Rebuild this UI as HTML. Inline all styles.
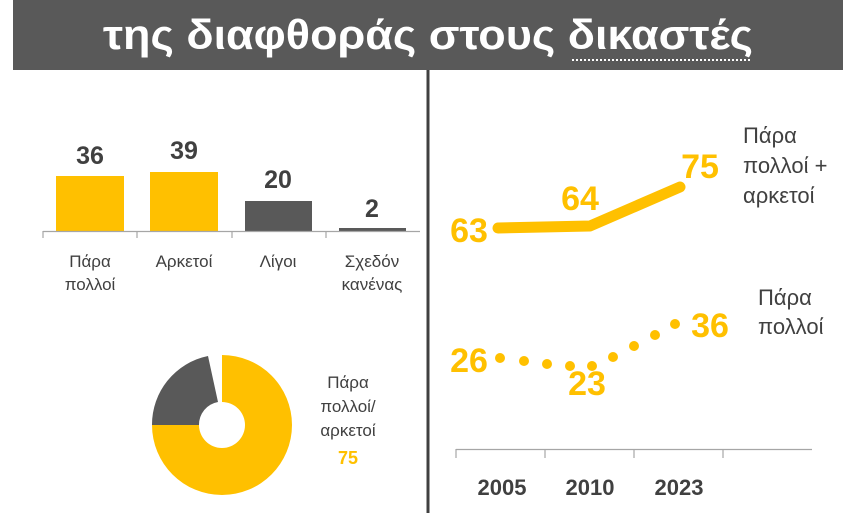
<!DOCTYPE html>
<html><head><meta charset="utf-8"><style>
html,body{margin:0;padding:0;background:#fff;}
svg{display:block;font-family:"Liberation Sans","DejaVu Sans",sans-serif;}
</style></head><body>
<svg width="855" height="513" viewBox="0 0 855 513" xmlns="http://www.w3.org/2000/svg">
<rect x="13" y="0" width="830" height="70" fill="#595959"/>
<text x="103" y="49" fill="#fff" font-size="42" font-weight="bold" textLength="650" lengthAdjust="spacingAndGlyphs">της διαφθοράς στους δικαστές</text>
<line x1="572" y1="60" x2="752" y2="60" stroke="#fff" stroke-width="2" stroke-dasharray="2,2"/>
<line x1="428" y1="70" x2="428" y2="513" stroke="#404040" stroke-width="3"/>
<!-- bars -->
<rect x="56" y="176" width="68" height="55" fill="#FFC000"/>
<rect x="150" y="172" width="68" height="59" fill="#FFC000"/>
<rect x="245" y="201" width="67" height="30" fill="#595959"/>
<rect x="339" y="228" width="67" height="3" fill="#595959"/>
<g stroke="#a6a6a6" stroke-width="1.2"><line x1="43" y1="231.5" x2="420" y2="231.5"/>
<line x1="43" y1="231" x2="43" y2="238"/><line x1="137" y1="231" x2="137" y2="238"/><line x1="232" y1="231" x2="232" y2="238"/><line x1="326" y1="231" x2="326" y2="238"/></g>
<g font-size="25" font-weight="bold" fill="#404040" text-anchor="middle">
<text x="90" y="164">36</text><text x="184" y="159">39</text><text x="278" y="188">20</text><text x="372" y="217">2</text></g>
<g font-size="17" fill="#404040" text-anchor="middle">
<text x="90" y="267">Πάρα</text><text x="90" y="290">πολλοί</text>
<text x="184" y="267">Αρκετοί</text><text x="278" y="267">Λίγοι</text>
<text x="372" y="267">Σχεδόν</text><text x="372" y="290">κανένας</text></g>
<!-- donut -->
<path d="M222 355 A70 70 0 1 1 152 425 L199 425 A23 23 0 1 0 222 402 Z" fill="#FFC000"/>
<path d="M152 425 A70 70 0 0 1 208 356 L218 402 A23 23 0 0 0 199 425 Z" fill="#595959"/>
<g font-size="17" fill="#404040" text-anchor="middle">
<text x="348" y="388">Πάρα</text><text x="348" y="412">πολλοί/</text><text x="348" y="436">αρκετοί</text></g>
<text x="348" y="464" font-size="18" font-weight="bold" fill="#FFC000" text-anchor="middle">75</text>
<!-- line chart -->
<polyline points="498,228 590,226 680,187" fill="none" stroke="#FFC000" stroke-width="11" stroke-linecap="round" stroke-linejoin="round"/>
<g fill="#FFC000"><circle cx="500" cy="358" r="5"/><circle cx="524" cy="361" r="5"/><circle cx="547" cy="364" r="5"/><circle cx="570" cy="366" r="5"/><circle cx="592" cy="366" r="5"/><circle cx="613" cy="357" r="5"/><circle cx="634" cy="346" r="5"/><circle cx="655" cy="335" r="5"/><circle cx="675" cy="324" r="5"/></g>
<g font-size="34" font-weight="bold" fill="#FFC000" text-anchor="middle">
<text x="469" y="242">63</text><text x="580" y="210">64</text><text x="700" y="178">75</text>
<text x="469" y="372">26</text><text x="587" y="395">23</text><text x="710" y="337">36</text></g>
<g font-size="22" fill="#404040">
<text x="743" y="143">Πάρα</text><text x="743" y="173">πολλοί +</text><text x="743" y="203">αρκετοί</text>
<text x="758" y="305">Πάρα</text><text x="758" y="334">πολλοί</text></g>
<g stroke="#a6a6a6" stroke-width="1.2"><line x1="456" y1="449.5" x2="812" y2="449.5"/>
<line x1="456" y1="449" x2="456" y2="458"/><line x1="545" y1="449" x2="545" y2="458"/><line x1="634" y1="449" x2="634" y2="458"/><line x1="723" y1="449" x2="723" y2="458"/></g>
<g font-size="22" font-weight="bold" fill="#404040" text-anchor="middle">
<text x="502" y="495">2005</text><text x="590" y="495">2010</text><text x="679" y="495">2023</text></g>
</svg>
</body></html>
